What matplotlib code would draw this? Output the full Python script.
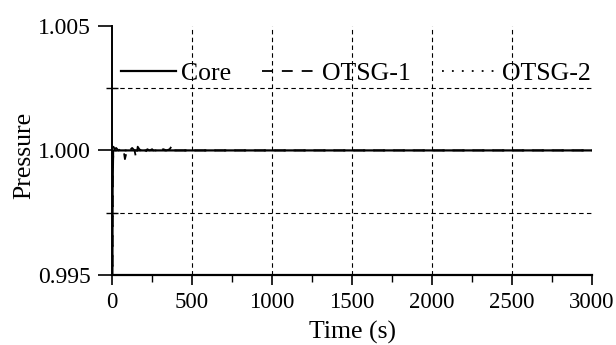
import matplotlib
matplotlib.use("Agg")
import matplotlib.pyplot as plt
from matplotlib.ticker import MultipleLocator, FixedLocator

plt.rcParams['font.family'] = ['Liberation Serif', 'DejaVu Serif']
plt.rcParams['mathtext.fontset'] = 'stix'

# Normalised pressure histories
core_t = [0, 3, 6, 10, 20, 3000]
core_p = [0.9900, 0.9985, 0.99995, 1.0000, 1.0000, 1.0000]

otsg1_t = [0, 4, 8, 15, 25, 40, 55, 70, 80, 95, 110, 125, 140, 150, 160, 175,
           190, 205, 220, 235, 250, 265, 280, 300, 320, 340, 360, 375, 385, 400, 3000]
otsg1_p = [0.9900, 0.9990, 1.00015, 1.00005, 1.00010, 1.00000, 1.00005, 1.00010,
           0.99965, 1.00005, 1.00000, 1.00010, 1.00000, 0.99970, 1.00015, 1.00000,
           1.00010, 0.99990, 1.00005, 1.00000, 1.00005, 0.99995, 1.00000, 1.00000,
           1.00005, 1.00000, 1.00005, 1.00020, 1.00000, 1.00000, 1.00000]

otsg2_t = [0, 4, 8, 20, 3000]
otsg2_p = [0.9900, 0.9992, 1.00005, 1.00000, 1.00000]

x_ticks = [0, 500, 1000, 1500, 2000, 2500, 3000]
y_ticks = [0.995, 1.000, 1.005]
y_grid = [0.9975, 1.0025]

fig = plt.figure(figsize=(6.16, 3.45), dpi=100)
ax = fig.add_axes([0.182, 0.203, 0.779, 0.722])

ax.plot(core_t, core_p, '-', color='black', lw=1.6, label='Core')
ax.plot(otsg1_t, otsg1_p, color='black', lw=1.3, ls=(0, (6, 5)), label='OTSG-1')
ax.plot(otsg2_t, otsg2_p, color='black', lw=1.3, ls=(0, (1, 4.5)), label='OTSG-2')

ax.set_xlim(0, 3000)
ax.set_ylim(0.995, 1.005)

for x in x_ticks[1:-1]:
    ax.axvline(x, color='black', lw=0.8, ls=(0, (4, 3)), zorder=0)
for y in y_grid:
    ax.axhline(y, color='black', lw=0.8, ls=(0, (4, 3)), zorder=0)

ax.xaxis.set_major_locator(FixedLocator(x_ticks))
ax.xaxis.set_minor_locator(MultipleLocator(250))
ax.yaxis.set_major_locator(FixedLocator(y_ticks))
ax.yaxis.set_minor_locator(FixedLocator(y_grid))
ax.set_yticklabels(['0.995', '1.000', '1.005'])

ax.spines['top'].set_visible(False)
ax.spines['right'].set_visible(False)
ax.spines['left'].set_linewidth(1.4)
ax.spines['bottom'].set_linewidth(1.6)

ax.tick_params(axis='x', which='major', direction='out', length=7, width=1.2,
               labelsize=16.5, pad=5)
ax.tick_params(axis='x', which='minor', direction='out', length=5, width=1.0)
ax.tick_params(axis='y', which='major', direction='out', length=10, width=1.2,
               labelsize=17, pad=5)
ax.tick_params(axis='y', which='minor', direction='inout', length=8, width=1.0)

ax.set_xlabel('Time (s)', fontsize=18.5)
ax.xaxis.set_label_coords(0.5, -0.185)
ax.set_ylabel('Pressure', fontsize=18.5)
ax.yaxis.set_label_coords(-0.16, 0.48)

ax.legend(loc='center left', bbox_to_anchor=(0.018, 0.807), ncol=3, frameon=False,
          fontsize=18.5, handlelength=2.15, handletextpad=0.2, columnspacing=1.2,
          borderaxespad=0, borderpad=0)

fig.savefig('out.png', dpi=100)
